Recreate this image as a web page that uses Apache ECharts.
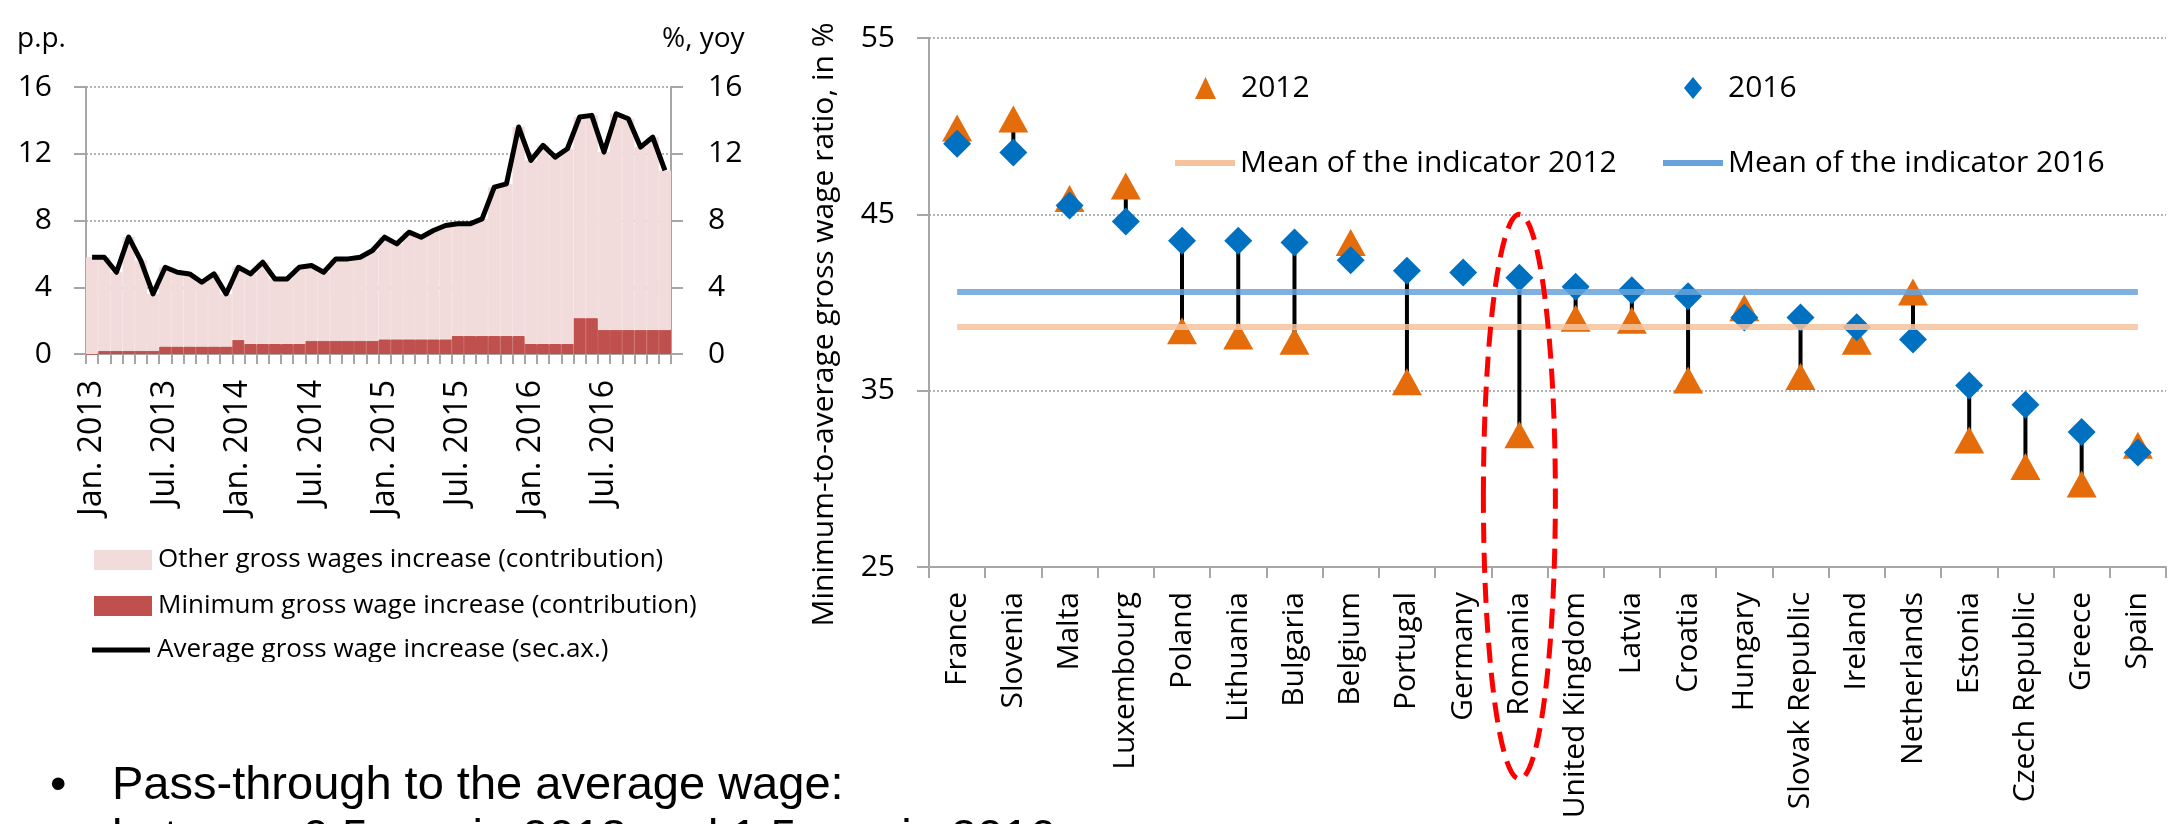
<!DOCTYPE html>
<html>
<head>
<meta charset="utf-8">
<script src="https://cdn.jsdelivr.net/npm/echarts@6/dist/echarts.min.js"></script>
<style>
  html, body { margin: 0; padding: 0; background: #ffffff; }
  #chart { width: 2170px; height: 824px; }
</style>
</head>
<body>
<div id="chart"></div>
<script>
// ---- Left panel: monthly wage growth, Jan. 2013 - Dec. 2016 ----
const years = [2013, 2014, 2015, 2016];
const monthNames = ['Jan.', 'Feb.', 'Mar.', 'Apr.', 'May', 'Jun.', 'Jul.', 'Aug.', 'Sep.', 'Oct.', 'Nov.', 'Dec.'];
const monthLabels = years.flatMap(y => monthNames.map(m => m + ' ' + y));

// Average gross wage increase, %, yoy (secondary axis)
const avgWageGrowth = [
  5.8, 5.8, 4.9, 7.0, 5.6, 3.6, 5.2, 4.9, 4.8, 4.3, 4.8, 3.6,
  5.2, 4.8, 5.5, 4.5, 4.5, 5.2, 5.3, 4.9, 5.7, 5.7, 5.8, 6.2,
  7.0, 6.6, 7.3, 7.0, 7.4, 7.7, 7.8, 7.8, 8.1, 10.0, 10.2, 13.6,
  11.6, 12.5, 11.8, 12.3, 14.2, 14.3, 12.1, 14.4, 14.1, 12.4, 13.0, 11.0
];
// Minimum gross wage increase (contribution), p.p.
const minWageContribution = [
  0.0, 0.2, 0.2, 0.2, 0.2, 0.2, 0.45, 0.45, 0.45, 0.45, 0.45, 0.45,
  0.85, 0.6, 0.6, 0.6, 0.6, 0.6, 0.8, 0.8, 0.8, 0.8, 0.8, 0.8,
  0.88, 0.88, 0.88, 0.88, 0.88, 0.88, 1.08, 1.08, 1.08, 1.08, 1.08, 1.08,
  0.6, 0.6, 0.6, 0.6, 2.15, 2.15, 1.45, 1.45, 1.45, 1.45, 1.45, 1.45
];
// Other gross wages increase (contribution) = average increase minus the minimum-wage part
const otherContribution = avgWageGrowth.map((v, i) => +(v - minWageContribution[i]).toFixed(2));

// ---- Right panel: minimum-to-average gross wage ratio, % ----
const countries = [
  'France', 'Slovenia', 'Malta', 'Luxembourg', 'Poland', 'Lithuania', 'Bulgaria', 'Belgium',
  'Portugal', 'Germany', 'Romania', 'United Kingdom', 'Latvia', 'Croatia', 'Hungary',
  'Slovak Republic', 'Ireland', 'Netherlands', 'Estonia', 'Czech Republic', 'Greece', 'Spain'
];
const ratio2012 = [
  49.9, 50.4, 45.9, 46.6, 38.4, 38.1, 37.8, 43.4, 35.5, null, 32.5,
  39.1, 39.0, 35.6, 39.7, 35.8, 37.8, 40.6, 32.2, 30.7, 29.7, 31.9
];
const ratio2016 = [
  49.0, 48.5, 45.5, 44.6, 43.5, 43.5, 43.4, 42.4, 41.8, 41.7, 41.4,
  40.9, 40.7, 40.35, 39.15, 39.15, 38.6, 37.9, 35.3, 34.2, 32.65, 31.5
];
const mean2012 = 38.6;
const mean2016 = 40.6;

const FONT = "'Open Sans', sans-serif";
const BODY_FONT = "47px 'Liberation Sans', Arial, sans-serif";
const AXIS_GREY = '#a6a6a6';
const GRID_GREY = '#9a9a9a';
const ORANGE = '#E46C0A';
const BLUE = '#0070C0';
const MEAN_ORANGE = '#F6C39E';
const MEAN_BLUE = '#67A3DA';

const chart = echarts.init(document.getElementById('chart'), null, { renderer: 'canvas' });

const points2012 = countries.map((c, i) => [c, ratio2012[i]]).filter(d => d[1] != null);
const points2016 = countries.map((c, i) => [c, ratio2016[i]]);
const changeBars = countries
  .map((c, i) => (ratio2012[i] == null ? null : [i, ratio2012[i], ratio2016[i]]))
  .filter(Boolean);

const legendText = (size, pad) => ({
  color: '#000', fontFamily: FONT, fontSize: size, padding: pad || [0, 0, 0, 0]
});

const option = {
  animation: false,
  backgroundColor: '#ffffff',
  grid: [
    { left: 86, top: 87, width: 585, height: 267, containLabel: false, outerBoundsMode: 'none' },
    { left: 929, top: 38, width: 1237, height: 529, containLabel: false, outerBoundsMode: 'none' }
  ],
  legend: [
    { data: ['Other gross wages increase (contribution)'], left: 94, top: 547, padding: 0,
      icon: 'rect', itemWidth: 56, itemHeight: 18, selectedMode: false, textStyle: legendText(26, [0, 0, 0, 2]) },
    { data: ['Minimum gross wage increase (contribution)'], left: 94, top: 593, padding: 0,
      icon: 'rect', itemWidth: 56, itemHeight: 18, selectedMode: false, textStyle: legendText(26, [0, 0, 0, 2]) },
    { data: ['Average gross wage increase (sec.ax.)'], left: 92, top: 637, padding: 0,
      icon: 'rect', itemWidth: 58, itemHeight: 5, selectedMode: false, textStyle: legendText(26, [0, 0, 0, 2]) },
    { data: ['2012'], left: 1195, top: 73, padding: 0,
      icon: 'triangle', itemWidth: 21, itemHeight: 22, selectedMode: false, textStyle: legendText(30, [0, 0, 0, 20]) },
    { data: ['2016'], left: 1684, top: 73, padding: 0,
      icon: 'diamond', itemWidth: 18, itemHeight: 22, selectedMode: false, textStyle: legendText(30, [0, 0, 0, 21]) },
    { data: ['Mean of the indicator 2012'], left: 1175, top: 148, padding: 0,
      icon: 'rect', itemWidth: 60, itemHeight: 6, selectedMode: false, textStyle: legendText(30) },
    { data: ['Mean of the indicator 2016'], left: 1663, top: 148, padding: 0,
      icon: 'rect', itemWidth: 60, itemHeight: 6, selectedMode: false, textStyle: legendText(30) }
  ],
  xAxis: [
    {
      gridIndex: 0, type: 'category', data: monthLabels, boundaryGap: true,
      axisLine: { lineStyle: { color: AXIS_GREY, width: 2 } },
      axisTick: { show: true, interval: 0, length: 10, lineStyle: { color: AXIS_GREY, width: 2 } },
      axisLabel: { interval: 5, rotate: 90, margin: 26, color: '#000', fontFamily: FONT, fontSize: 32 },
      splitLine: { show: false }
    },
    {
      gridIndex: 1, type: 'category', data: countries, boundaryGap: true,
      axisLine: { lineStyle: { color: AXIS_GREY, width: 2 } },
      axisTick: { show: true, interval: 0, length: 11, lineStyle: { color: AXIS_GREY, width: 2 } },
      axisLabel: { interval: 0, rotate: 90, margin: 25, color: '#000', fontFamily: FONT, fontSize: 30 },
      splitLine: { show: false }
    }
  ],
  yAxis: [
    {
      gridIndex: 0, type: 'value', position: 'left', min: 0, max: 16, interval: 4,
      axisLine: { show: true, lineStyle: { color: AXIS_GREY, width: 2 } },
      axisTick: { show: true, length: 12, lineStyle: { color: AXIS_GREY, width: 2 } },
      axisLabel: { margin: 34, color: '#000', fontFamily: FONT, fontSize: 30 },
      splitLine: { show: true, lineStyle: { color: GRID_GREY, width: 1.5, type: [2, 2] } }
    },
    {
      gridIndex: 0, type: 'value', position: 'right', min: 0, max: 16, interval: 4,
      axisLine: { show: true, lineStyle: { color: AXIS_GREY, width: 2 } },
      axisTick: { show: true, length: 12, lineStyle: { color: AXIS_GREY, width: 2 } },
      axisLabel: { margin: 37, color: '#000', fontFamily: FONT, fontSize: 30 },
      splitLine: { show: false }
    },
    {
      gridIndex: 1, type: 'value', position: 'left', min: 25, max: 55, interval: 10,
      name: 'Minimum-to-average gross wage ratio, in %',
      nameLocation: 'middle', nameGap: 90,
      nameTextStyle: { color: '#000', fontFamily: FONT, fontSize: 30, padding: [0, 44, 0, 0] },
      axisLine: { show: true, lineStyle: { color: AXIS_GREY, width: 2 } },
      axisTick: { show: true, length: 12, lineStyle: { color: AXIS_GREY, width: 2 } },
      axisLabel: { margin: 34, color: '#000', fontFamily: FONT, fontSize: 30 },
      splitLine: { show: true, lineStyle: { color: GRID_GREY, width: 1.5, type: [2, 2] } }
    }
  ],
  series: [
    {
      name: 'Minimum gross wage increase (contribution)', type: 'bar',
      xAxisIndex: 0, yAxisIndex: 0, stack: 'wages', data: minWageContribution,
      barCategoryGap: '0%', barGap: '0%',
      itemStyle: { color: '#C0504D', borderColor: '#C0504D', borderWidth: 1 }
    },
    {
      name: 'Other gross wages increase (contribution)', type: 'bar',
      xAxisIndex: 0, yAxisIndex: 0, stack: 'wages', data: otherContribution,
      barCategoryGap: '0%', barGap: '0%',
      itemStyle: { color: '#F2DCDB', borderColor: '#F2DCDB', borderWidth: 1 }
    },
    {
      name: 'Average gross wage increase (sec.ax.)', type: 'line',
      xAxisIndex: 0, yAxisIndex: 1, data: avgWageGrowth, z: 5,
      symbol: 'none', itemStyle: { color: '#000' },
      lineStyle: { color: '#000', width: 5, join: 'round' }
    },
    {
      name: 'change 2012-2016', type: 'custom', xAxisIndex: 1, yAxisIndex: 2, z: 2,
      silent: true, data: changeBars, encode: { x: 0, y: [1, 2] },
      renderItem: (params, api) => {
        const a = api.coord([api.value(0), api.value(1)]);
        const b = api.coord([api.value(0), api.value(2)]);
        return {
          type: 'line',
          shape: { x1: a[0], y1: a[1], x2: b[0], y2: b[1] },
          style: { stroke: '#000', lineWidth: 4 }
        };
      }
    },
    {
      name: '2012', type: 'scatter', xAxisIndex: 1, yAxisIndex: 2, z: 3,
      data: points2012, symbol: 'triangle', symbolSize: [30, 27],
      itemStyle: { color: ORANGE, opacity: 1 }
    },
    {
      name: '2016', type: 'scatter', xAxisIndex: 1, yAxisIndex: 2, z: 4,
      data: points2016, symbol: 'diamond', symbolSize: [28, 28],
      itemStyle: { color: BLUE, opacity: 1 }
    },
    {
      name: 'Mean of the indicator 2012', type: 'line', xAxisIndex: 1, yAxisIndex: 2, z: 6,
      data: [], itemStyle: { color: MEAN_ORANGE },
      markLine: {
        silent: true, symbol: ['none', 'none'], label: { show: false },
        lineStyle: { color: MEAN_ORANGE, width: 6, type: 'solid', opacity: 0.85 },
        data: [[{ coord: [countries[0], mean2012] }, { coord: [countries[countries.length - 1], mean2012] }]]
      }
    },
    {
      name: 'Mean of the indicator 2016', type: 'line', xAxisIndex: 1, yAxisIndex: 2, z: 6,
      data: [], itemStyle: { color: MEAN_BLUE },
      markLine: {
        silent: true, symbol: ['none', 'none'], label: { show: false },
        lineStyle: { color: MEAN_BLUE, width: 6, type: 'solid', opacity: 0.85 },
        data: [[{ coord: [countries[0], mean2016] }, { coord: [countries[countries.length - 1], mean2016] }]]
      }
    }
  ],
  graphic: [
    { type: 'text', left: 17, top: 25, silent: true,
      style: { text: 'p.p.', fill: '#000', font: "28px 'Open Sans', sans-serif" } },
    { type: 'text', left: 662, top: 25, silent: true,
      style: { text: '%, yoy', fill: '#000', font: "28px 'Open Sans', sans-serif" } },
    // the legend box is cut off just below its last row
    { type: 'rect', left: 60, top: 662, z: 100, silent: true,
      shape: { width: 660, height: 70 }, style: { fill: '#ffffff' } },
    { type: 'text', left: 50, top: 763, z: 101, silent: true,
      style: { text: '\u2022', fill: '#000', font: BODY_FONT } },
    { type: 'text', left: 112, top: 763, z: 101, silent: true,
      style: { text: 'Pass-through to the average wage:', fill: '#000', font: BODY_FONT } },
    { type: 'text', left: 112, top: 816, z: 101, silent: true,
      style: { text: 'between 0.5 p.p. in 2013 and 1.5 p.p. in 2016', fill: '#000', font: BODY_FONT } }
  ]
};

chart.setOption(option);

// Dashed ellipse highlighting Romania, anchored to the category axis and value scale
const top45 = chart.convertToPixel({ gridIndex: 1 }, ['Romania', 45]);
const base25 = chart.convertToPixel({ gridIndex: 1 }, ['Romania', 25]);
const ellipseTop = top45[1];
const ellipseBottom = base25[1] + 212;
chart.setOption({
  graphic: [{
    type: 'ellipse', id: 'romania-ring', z: 50, silent: true,
    shape: { cx: top45[0], cy: (ellipseTop + ellipseBottom) / 2, rx: 36, ry: (ellipseBottom - ellipseTop) / 2 },
    style: { fill: 'none', stroke: '#FF0000', lineWidth: 5, lineDash: [20, 10] }
  }]
});
</script>
</body>
</html>
